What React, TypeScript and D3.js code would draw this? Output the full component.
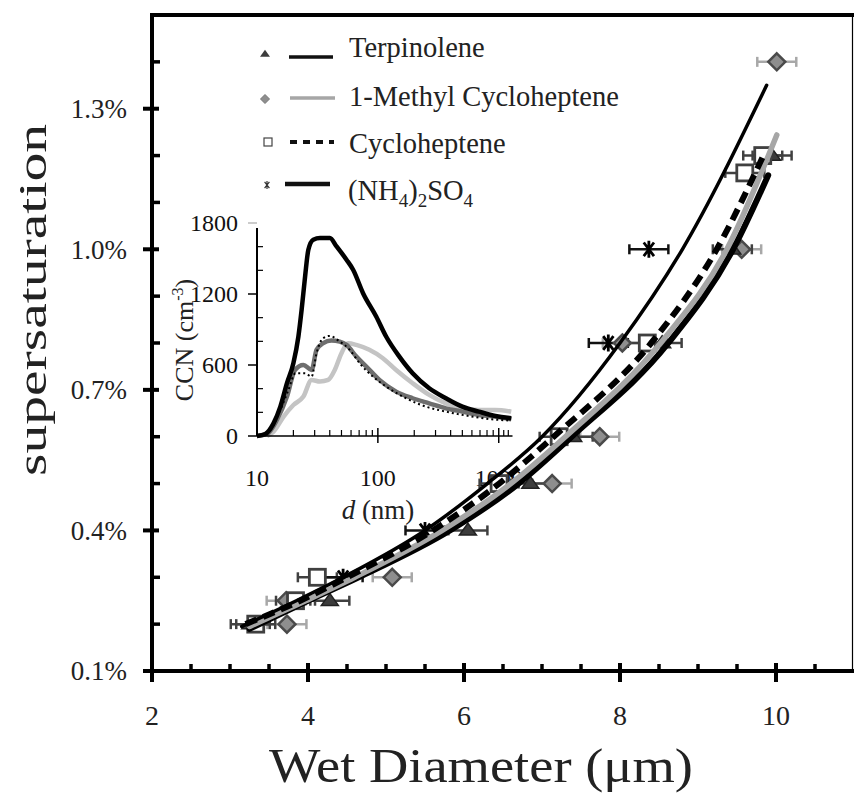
import React from "react";
import * as d3 from "d3";

const W = 854;
const H = 799;
const FONT = "'Liberation Serif', 'Times New Roman', serif";

// ---- main plot: measured points (wet diameter µm, supersaturation %) ----
const terpD = [3.26, 4.28, 6.05, 6.85, 7.4, 8.54, 9.44, 9.95];
const terpS = [0.2, 0.25, 0.4, 0.5, 0.6, 0.8, 1.0, 1.2];
const methD = [3.73, 3.72, 5.08, 7.13, 7.74, 8.03, 9.56, 10.01];
const methS = [0.2, 0.25, 0.3, 0.5, 0.6, 0.8, 1.0, 1.4];
const cycD = [3.33, 3.84, 4.12, 6.45, 7.22, 8.35, 9.6, 9.83];
const cycS = [0.2, 0.25, 0.3, 0.5, 0.6, 0.8, 1.163, 1.2];
const amsD = [4.45, 5.5, 7.85, 8.37];
const amsS = [0.3, 0.4, 0.8, 1.0];
const errHalf = 0.25;

// ---- main plot: fitted curves ----
const fitAmsD = [3.15, 3.85, 4.45, 5.5, 6.3, 7.0, 8.0, 8.8, 9.88];
const fitAmsS = [0.195, 0.25, 0.3, 0.4, 0.5, 0.6, 0.8, 1.0, 1.35];
const fitCycD = [3.2, 3.9, 4.5, 5.6, 6.45, 7.15, 8.4, 9.24, 9.83];
const fitCycS = [0.2, 0.25, 0.3, 0.4, 0.5, 0.6, 0.8, 1.0, 1.197];
const fitMethD = [3.25, 3.97, 4.6, 5.72, 6.6, 7.3, 8.52, 9.37, 10.01];
const fitMethS = [0.195, 0.25, 0.3, 0.4, 0.5, 0.6, 0.8, 1.0, 1.244];
const fitTerpD = [3.25, 4.0, 4.65, 5.82, 6.7, 7.38, 8.62, 9.45, 9.9];
const fitTerpS = [0.19, 0.25, 0.3, 0.4, 0.5, 0.6, 0.8, 1.0, 1.158];

// ---- axes ----
const xMajor = [2, 4, 6, 8, 10];
const xMinor = [2.5, 3, 3.5, 4.5, 5, 5.5, 6.5, 7, 7.5, 8.5, 9, 9.5, 10.5];
const yMajor = [0.1, 0.4, 0.7, 1.0, 1.3];
const yMinor = [0.2, 0.3, 0.5, 0.6, 0.8, 0.9, 1.1, 1.2, 1.4];

// ---- inset: CCN size distributions ----
const blackD = [10, 11.7, 13.7, 15.6, 17.7, 20, 22, 23.4, 25, 26.6, 29.2, 33.2, 40.1, 45.5, 55, 62.4, 75.4, 96.9, 117, 150.6, 194, 266, 365, 500, 685, 940, 1270];
const blackC = [0, 17, 107, 248, 446, 615, 840, 1066, 1348, 1574, 1659, 1673, 1673, 1602, 1490, 1405, 1207, 1010, 841, 671, 530, 403, 319, 248, 206, 169, 150];
const dgrayD = [10, 12.1, 14.6, 17.7, 20.6, 24.2, 28.3, 31.1, 35.3, 41.3, 48.4, 55, 66.4, 80.2, 103, 141.6, 194, 266, 365, 500, 685, 940, 1270];
const dgrayC = [0, 17, 135, 333, 558, 601, 558, 728, 784, 807, 798, 770, 671, 587, 474, 375, 319, 276, 234, 206, 178, 164, 141];
const dotD = [10, 12.9, 15.6, 18.2, 20.8, 25, 28.3, 31.1, 35.3, 40, 48.4, 58.5, 70.7, 91, 117, 171, 250, 365, 565, 880, 1270];
const dotC = [0, 51, 220, 389, 530, 530, 502, 700, 827, 846, 798, 728, 615, 502, 418, 319, 248, 206, 169, 141, 130];
const lgrayD = [12.1, 13.7, 16.6, 20, 24.2, 28.3, 33.2, 38.8, 44, 50, 56.7, 66.4, 85, 110, 141.6, 194, 266, 365, 500, 685, 940, 1270];
const lgrayC = [0, 37, 164, 262, 333, 474, 460, 474, 558, 700, 784, 770, 728, 657, 558, 446, 347, 276, 234, 220, 220, 206];

const insetYMajor = [0, 600, 1200, 1800];
const insetYMinor = [200, 400, 800, 1000, 1400, 1600];
const insetXMajor = [10, 100, 1000];
const insetXMinor = [20, 30, 40, 50, 60, 70, 80, 90, 200, 300, 400, 500, 600, 700, 800, 900, 1100, 1200];

const legendNames = ["Terpinolene", "1-Methyl Cycloheptene", "Cycloheptene"];

export default function App() {
  const x = d3.scaleLinear().domain([2, 11]).range([152, 854]);
  const y = d3.scaleLinear().domain([0.1, 1.5]).range([671, 15]);

  const xi = d3.scaleLog().domain([10, 1300]).range([257, 512.5]);
  const yi = d3.scaleLinear().domain([0, 1800]).range([436, 223]);

  const fitLine = d3
    .line<[number, number]>()
    .x((d) => x(d[0]))
    .y((d) => y(d[1]))
    .curve(d3.curveMonotoneX);
  const insetLine = d3
    .line<[number, number]>()
    .x((d) => xi(d[0]))
    .y((d) => yi(d[1]))
    .curve(d3.curveMonotoneX);

  const zip = (a: number[], b: number[]) => a.map((v, i) => [v, b[i]] as [number, number]);

  const errBar = (D: number[], S: number[], color: string, key: string) =>
    D.map((d, i) => {
      const x0 = x(d - errHalf);
      const x1 = x(d + errHalf);
      const yy = y(S[i]);
      return (
        <g key={key + i} stroke={color} strokeWidth={2.5}>
          <line x1={x0} x2={x1} y1={yy} y2={yy} />
          <line x1={x0} x2={x0} y1={yy - 5} y2={yy + 5} />
          <line x1={x1} x2={x1} y1={yy - 5} y2={yy + 5} />
        </g>
      );
    });

  const tri = (cx: number, cy: number, r: number) =>
    `M${cx},${cy - r * 0.85} L${cx + r},${cy + r * 0.55} L${cx - r},${cy + r * 0.55} Z`;
  const dia = (cx: number, cy: number, r: number) =>
    `M${cx},${cy - r} L${cx + r},${cy} L${cx},${cy + r} L${cx - r},${cy} Z`;
  const star = (cx: number, cy: number, r: number) => {
    const a = Math.PI / 3.4;
    const dx = r * Math.cos(a);
    const dy = r * Math.sin(a);
    return `M${cx},${cy - r} L${cx},${cy + r} M${cx - dx},${cy - dy} L${cx + dx},${cy + dy} M${cx - dx},${cy + dy} L${cx + dx},${cy - dy}`;
  };

  return (
    <svg width={W} height={H} style={{ display: "block", position: "absolute", left: 0, top: 0 }} fontFamily={FONT}>
      <rect x={0} y={0} width={W} height={H} fill="#fff" />

      {/* ---------- INSET ---------- */}
      <g>
        <path d={insetLine(zip(lgrayD, lgrayC)) || ""} fill="none" stroke="#c4c4c4" strokeWidth={4.5} />
        <path d={insetLine(zip(dgrayD, dgrayC)) || ""} fill="none" stroke="#6e6e6e" strokeWidth={4.5} />
        <path d={insetLine(zip(dotD, dotC)) || ""} fill="none" stroke="#000" strokeWidth={2} strokeDasharray="2,3" />
        <path d={insetLine(zip(blackD, blackC)) || ""} fill="none" stroke="#000" strokeWidth={4.5} />
        {/* axes */}
        <line x1={257} x2={257} y1={yi(1800) + 5} y2={yi(0)} stroke="#000" strokeWidth={2} />
        <line x1={257} x2={512.5} y1={yi(0)} y2={yi(0)} stroke="#000" strokeWidth={1.5} />
        {insetYMajor.map((v) => (
          <g key={"iym" + v}>
            <line x1={248} x2={257} y1={yi(v)} y2={yi(v)} stroke={v === 1800 ? "#bbb" : "#000"} strokeWidth={1.5} />
            <text x={238} y={yi(v)} dy="0.35em" textAnchor="end" fontSize={24} fill="#111">
              {v}
            </text>
          </g>
        ))}
        {insetYMinor.map((v) => (
          <line key={"iyn" + v} x1={257} x2={263} y1={yi(v)} y2={yi(v)} stroke="#000" strokeWidth={1.2} />
        ))}
        {insetXMinor.map((v) => (
          <line key={"ixn" + v} x1={xi(v)} x2={xi(v)} y1={yi(0)} y2={yi(0) - 6} stroke="#000" strokeWidth={1.2} />
        ))}
        {insetXMajor.map((v) => (
          <g key={"ixm" + v}>
            {v > 10 && <line x1={xi(v)} x2={xi(v)} y1={yi(0) - 8} y2={yi(0) + 7} stroke="#000" strokeWidth={1.5} />}
            <text x={xi(v)} y={486} textAnchor="middle" fontSize={24} fill="#111">
              {v}
            </text>
          </g>
        ))}
        <text x={378} y={519} textAnchor="middle" fontSize={27} fill="#222">
          <tspan fontStyle="italic">d</tspan> (nm)
        </text>
        <text transform="translate(193,340) rotate(-90)" textAnchor="middle" fontSize={26} fill="#222">
          CCN (cm
          <tspan fontSize={16} dy={-10}>-3</tspan>
          <tspan dy={10}>)</tspan>
        </text>
      </g>

      {/* ---------- MAIN markers + error bars ---------- */}
      {errBar(methD, methS, "#a8a8a8", "me")}
      {errBar(terpD, terpS, "#404040", "te")}
      {errBar(cycD, cycS, "#404040", "ce")}
      {errBar(amsD, amsS, "#111", "ae")}
      {methD.map((d, i) => (
        <path key={"md" + i} d={dia(x(d), y(methS[i]), 8.5)} fill="#8e8e8e" stroke="#4a4a4a" strokeWidth={2.5} />
      ))}
      {terpD.map((d, i) => (
        <path key={"td" + i} d={tri(x(d), y(terpS[i]), 8.5)} fill="#3c3c3c" stroke="#222" strokeWidth={1.5} />
      ))}
      {cycD.map((d, i) => (
        <rect key={"cd" + i} x={x(d) - 8} y={y(cycS[i]) - 8} width={16} height={16} fill="#fff" stroke="#404040" strokeWidth={2.8} />
      ))}
      {amsD.map((d, i) => (
        <path key={"ad" + i} d={star(x(d), y(amsS[i]), 8.5)} fill="none" stroke="#000" strokeWidth={2.8} />
      ))}

      {/* ---------- MAIN fitted curves ---------- */}
      <path d={fitLine(zip(fitTerpD, fitTerpS)) || ""} fill="none" stroke="#000" strokeWidth={6} strokeLinecap="round" />
      <path d={fitLine(zip(fitMethD, fitMethS)) || ""} fill="none" stroke="#a6a6a6" strokeWidth={5.5} strokeLinecap="round" />
      <path d={fitLine(zip(fitCycD, fitCycS)) || ""} fill="none" stroke="#000" strokeWidth={6} strokeDasharray="12,7" />
      <path d={fitLine(zip(fitAmsD, fitAmsS)) || ""} fill="none" stroke="#000" strokeWidth={3.5} strokeLinecap="round" />

      {/* ---------- MAIN axes / frame ---------- */}
      <line x1={152} x2={854} y1={15} y2={15} stroke="#000" strokeWidth={4} />
      <line x1={852.5} x2={852.5} y1={15} y2={671} stroke="#000" strokeWidth={1.2} />
      <line x1={152} x2={152} y1={13} y2={682} stroke="#000" strokeWidth={4} />
      <line x1={145} x2={854} y1={671} y2={671} stroke="#000" strokeWidth={4} />
      {yMajor.map((v) => (
        <g key={"ym" + v}>
          <line x1={143} x2={159} y1={y(v)} y2={y(v)} stroke="#000" strokeWidth={4} />
          <text x={127} y={y(v)} dy="0.35em" textAnchor="end" fontSize={27} fill="#222">
            {d3.format(".1f")(v) + "%"}
          </text>
        </g>
      ))}
      {yMinor.map((v) => (
        <line key={"yn" + v} x1={152} x2={160} y1={y(v)} y2={y(v)} stroke="#000" strokeWidth={3.5} />
      ))}
      {xMajor.map((v) => (
        <g key={"xm" + v}>
          <line x1={x(v)} x2={x(v)} y1={663} y2={682} stroke="#000" strokeWidth={4} />
          <text x={x(v)} y={725} textAnchor="middle" fontSize={28} fill="#222">
            {v}
          </text>
        </g>
      ))}
      {xMinor.map((v) => (
        <line key={"xn" + v} x1={x(v)} x2={x(v)} y1={664} y2={671} stroke="#000" strokeWidth={3.5} />
      ))}
      <text x={481} y={782} textAnchor="middle" fontSize={49} fill="#222" textLength={424} lengthAdjust="spacingAndGlyphs">
        Wet Diameter (μm)
      </text>
      <text transform="translate(46,300) rotate(-90)" textAnchor="middle" fontSize={40} fill="#222" textLength={352} lengthAdjust="spacingAndGlyphs">
        supersaturation
      </text>

      {/* ---------- LEGEND ---------- */}
      <g>
        <path d={tri(265, 54, 5)} fill="#3c3c3c" />
        <line x1={289} x2={333} y1={57} y2={57} stroke="#111" strokeWidth={3.5} />
        <text x={349} y={57} fontSize={28.5} fill="#222">{legendNames[0]}</text>

        <path d={dia(265, 99, 4.5)} fill="#8e8e8e" stroke="#777" strokeWidth={1} />
        <line x1={290} x2={335} y1={98} y2={98} stroke="#a6a6a6" strokeWidth={3.5} />
        <text x={349} y={106} fontSize={28.5} fill="#222">{legendNames[1]}</text>

        <rect x={264} y={138} width={8} height={8} fill="#fff" stroke="#444" strokeWidth={1.2} />
        <line x1={290} x2={334} y1={142} y2={142} stroke="#111" strokeWidth={4} strokeDasharray="7,6" />
        <text x={349} y={153} fontSize={28.5} fill="#222">{legendNames[2]}</text>

        <path d={star(267, 185, 4)} fill="none" stroke="#333" strokeWidth={1.2} />
        <line x1={285} x2={330} y1={184} y2={184} stroke="#111" strokeWidth={4.5} />
        <text x={348} y={200} fontSize={28.5} fill="#222">
          (NH<tspan fontSize={19} dy={7}>4</tspan>
          <tspan dy={-7}>)</tspan>
          <tspan fontSize={19} dy={7}>2</tspan>
          <tspan dy={-7}>SO</tspan>
          <tspan fontSize={19} dy={7}>4</tspan>
        </text>
      </g>
    </svg>
  );
}
